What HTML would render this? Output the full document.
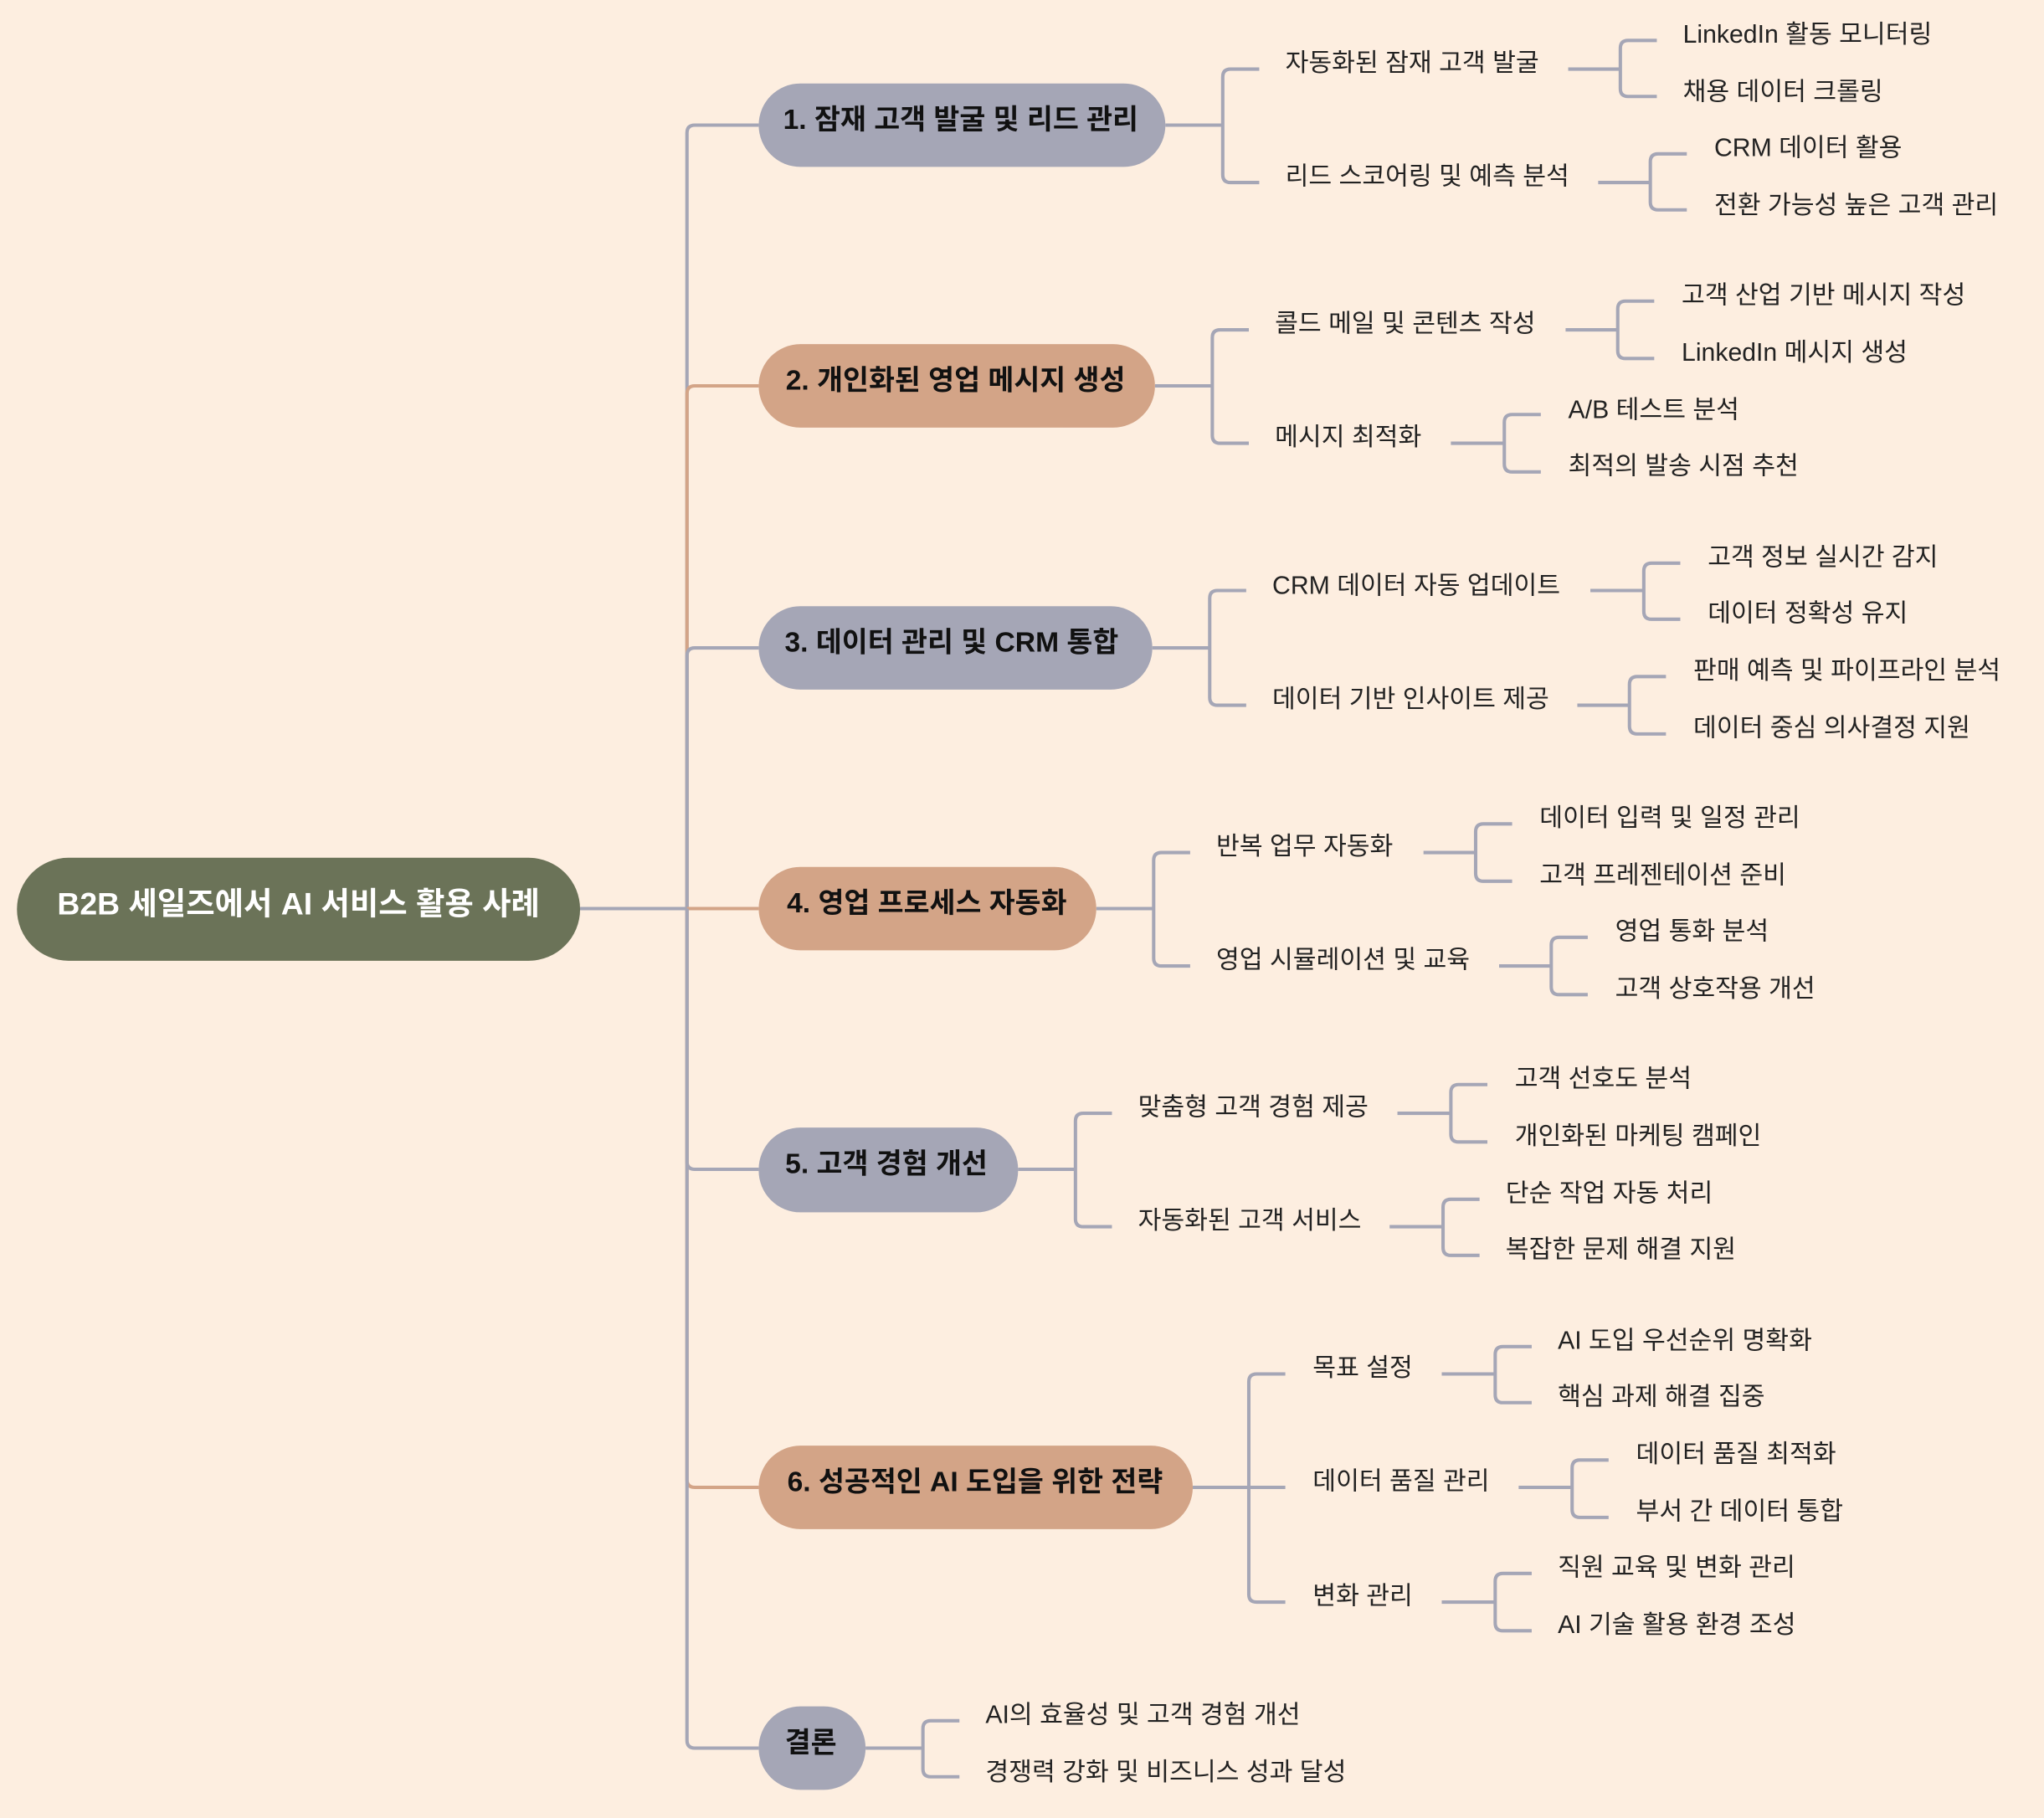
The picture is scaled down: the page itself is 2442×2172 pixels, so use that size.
<!DOCTYPE html>
<html><head><meta charset="utf-8"><style>
html,body{margin:0;padding:0;background:#fdeee0;}
svg{display:block;}
text{font-family:"Liberation Sans","Noto Sans CJK KR",sans-serif;dominant-baseline:central;}
.l{font-size:19.4px;fill:#222;}
.b{font-size:21.6px;font-weight:bold;fill:#111;text-anchor:middle;}
.g{fill:none;stroke:#a5a6b6;stroke-width:2.6;}
.o{fill:none;stroke:#d3a487;stroke-width:2.6;}
</style></head><body>
<svg width="2442" height="2172" viewBox="0 0 1568 1394.6" xmlns="http://www.w3.org/2000/svg">
<rect width="1568" height="1394.6" fill="#fdeee0"/>
<path class="g" d="M445,697 H527"/>
<path class="g" d="M527,697 V102 Q527,96 533,96 H582"/>
<path class="o" d="M527,697 V302 Q527,296 533,296 H582"/>
<path class="g" d="M527,697 V503 Q527,497 533,497 H582"/>
<path class="o" d="M527,697 H582"/>
<path class="g" d="M527,697 V891 Q527,897 533,897 H582"/>
<path class="o" d="M527,697 V1135 Q527,1141 533,1141 H582"/>
<path class="g" d="M527,697 V1335 Q527,1341 533,1341 H582"/>
<g class="g">
<path d="M894,96 H938 M938,96 V59 Q938,53 944,53 H966 M938,96 V134 Q938,140 944,140 H966"/>
<path d="M1203,53 H1243 M1243,53 V37 Q1243,31 1249,31 H1271 M1243,53 V68 Q1243,74 1249,74 H1271"/>
<path d="M1226,140 H1266 M1266,140 V124 Q1266,118 1272,118 H1294 M1266,140 V155 Q1266,161 1272,161 H1294"/>
<path d="M886,296 H930 M930,296 V259 Q930,253 936,253 H958 M930,296 V334 Q930,340 936,340 H958"/>
<path d="M1201,253 H1241 M1241,253 V237 Q1241,231 1247,231 H1269 M1241,253 V269 Q1241,275 1247,275 H1269"/>
<path d="M1113,340 H1154 M1154,340 V324 Q1154,318 1160,318 H1182 M1154,340 V356 Q1154,362 1160,362 H1182"/>
<path d="M884,497 H928 M928,497 V459 Q928,453 934,453 H956 M928,497 V535 Q928,541 934,541 H956"/>
<path d="M1220,453 H1261 M1261,453 V438 Q1261,432 1267,432 H1289 M1261,453 V469 Q1261,475 1267,475 H1289"/>
<path d="M1210,541 H1250 M1250,541 V525 Q1250,519 1256,519 H1278 M1250,541 V557 Q1250,563 1256,563 H1278"/>
<path d="M841,697 H885 M885,697 V660 Q885,654 891,654 H913 M885,697 V735 Q885,741 891,741 H913"/>
<path d="M1092,654 H1132 M1132,654 V638 Q1132,632 1138,632 H1160 M1132,654 V670 Q1132,676 1138,676 H1160"/>
<path d="M1150,741 H1190 M1190,741 V725 Q1190,719 1196,719 H1218 M1190,741 V757 Q1190,763 1196,763 H1218"/>
<path d="M781,897 H825 M825,897 V860 Q825,854 831,854 H853 M825,897 V935 Q825,941 831,941 H853"/>
<path d="M1072,854 H1113 M1113,854 V838 Q1113,832 1119,832 H1141 M1113,854 V870 Q1113,876 1119,876 H1141"/>
<path d="M1066,941 H1107 M1107,941 V926 Q1107,920 1113,920 H1135 M1107,941 V957 Q1107,963 1113,963 H1135"/>
<path d="M915,1141 H986 M958,1141 V1060 Q958,1054 964,1054 H986 M958,1141 V1223 Q958,1229 964,1229 H986"/>
<path d="M1106,1054 H1147 M1147,1054 V1039 Q1147,1033 1153,1033 H1175 M1147,1054 V1070 Q1147,1076 1153,1076 H1175"/>
<path d="M1165,1141 H1206 M1206,1141 V1126 Q1206,1120 1212,1120 H1234 M1206,1141 V1158 Q1206,1164 1212,1164 H1234"/>
<path d="M1106,1229 H1147 M1147,1229 V1213 Q1147,1207 1153,1207 H1175 M1147,1229 V1245 Q1147,1251 1153,1251 H1175"/>
<path d="M664,1341 H708 M708,1341 V1326 Q708,1320 714,1320 H736 M708,1341 V1357 Q708,1363 714,1363 H736"/>
</g>
<rect x="13" y="658" width="432" height="79" rx="39.5" fill="#6b7358"/>
<text x="229" y="693" style="font-size:24px;font-weight:bold;fill:#fff;text-anchor:middle">B2B 세일즈에서 AI 서비스 활용 사례</text>
<rect x="582" y="64" width="312" height="64" rx="32" fill="#a5a6b6"/>
<text class="b" x="737" y="92">1. 잠재 고객 발굴 및 리드 관리</text>
<rect x="582" y="264" width="304" height="64" rx="32" fill="#d3a487"/>
<text class="b" x="733" y="292">2. 개인화된 영업 메시지 생성</text>
<rect x="582" y="465" width="302" height="64" rx="32" fill="#a5a6b6"/>
<text class="b" x="730" y="493">3. 데이터 관리 및 CRM 통합</text>
<rect x="582" y="665" width="259" height="64" rx="32" fill="#d3a487"/>
<text class="b" x="711" y="693">4. 영업 프로세스 자동화</text>
<rect x="582" y="865" width="199" height="65" rx="32" fill="#a5a6b6"/>
<text class="b" x="680" y="893">5. 고객 경험 개선</text>
<rect x="582" y="1109" width="333" height="64" rx="32" fill="#d3a487"/>
<text class="b" x="748" y="1137">6. 성공적인 AI 도입을 위한 전략</text>
<rect x="582" y="1309" width="82" height="64" rx="32" fill="#a5a6b6"/>
<text class="b" x="622" y="1337">결론</text>
<g class="l" transform="translate(0,1.5)">
<text x="986" y="47">자동화된 잠재 고객 발굴</text>
<text x="986" y="134">리드 스코어링 및 예측 분석</text>
<text x="1291" y="25">LinkedIn 활동 모니터링</text>
<text x="1291" y="69">채용 데이터 크롤링</text>
<text x="1315" y="112">CRM 데이터 활용</text>
<text x="1315" y="156">전환 가능성 높은 고객 관리</text>

<text x="978" y="247">콜드 메일 및 콘텐츠 작성</text>
<text x="978" y="334">메시지 최적화</text>
<text x="1290" y="225">고객 산업 기반 메시지 작성</text>
<text x="1290" y="269">LinkedIn 메시지 생성</text>
<text x="1203" y="313">A/B 테스트 분석</text>
<text x="1203" y="356">최적의 발송 시점 추천</text>

<text x="976" y="448">CRM 데이터 자동 업데이트</text>
<text x="976" y="535">데이터 기반 인사이트 제공</text>
<text x="1310" y="426">고객 정보 실시간 감지</text>
<text x="1310" y="469">데이터 정확성 유지</text>
<text x="1299" y="513">판매 예측 및 파이프라인 분석</text>
<text x="1299" y="557">데이터 중심 의사결정 지원</text>

<text x="933" y="648">반복 업무 자동화</text>
<text x="933" y="735">영업 시뮬레이션 및 교육</text>
<text x="1181" y="626">데이터 입력 및 일정 관리</text>
<text x="1181" y="670">고객 프레젠테이션 준비</text>
<text x="1239" y="713">영업 통화 분석</text>
<text x="1239" y="757">고객 상호작용 개선</text>

<text x="873" y="848">맞춤형 고객 경험 제공</text>
<text x="873" y="935">자동화된 고객 서비스</text>
<text x="1162" y="826">고객 선호도 분석</text>
<text x="1162" y="870">개인화된 마케팅 캠페인</text>
<text x="1155" y="914">단순 작업 자동 처리</text>
<text x="1155" y="957">복잡한 문제 해결 지원</text>

<text x="1007" y="1048">목표 설정</text>
<text x="1007" y="1135">데이터 품질 관리</text>
<text x="1007" y="1223">변화 관리</text>
<text x="1195" y="1027">AI 도입 우선순위 명확화</text>
<text x="1195" y="1070">핵심 과제 해결 집중</text>
<text x="1255" y="1114">데이터 품질 최적화</text>
<text x="1255" y="1158">부서 간 데이터 통합</text>
<text x="1195" y="1201">직원 교육 및 변화 관리</text>
<text x="1195" y="1245">AI 기술 활용 환경 조성</text>

<text x="756" y="1314">AI의 효율성 및 고객 경험 개선</text>
<text x="756" y="1358">경쟁력 강화 및 비즈니스 성과 달성</text>
</g>
</svg>
</body></html>
